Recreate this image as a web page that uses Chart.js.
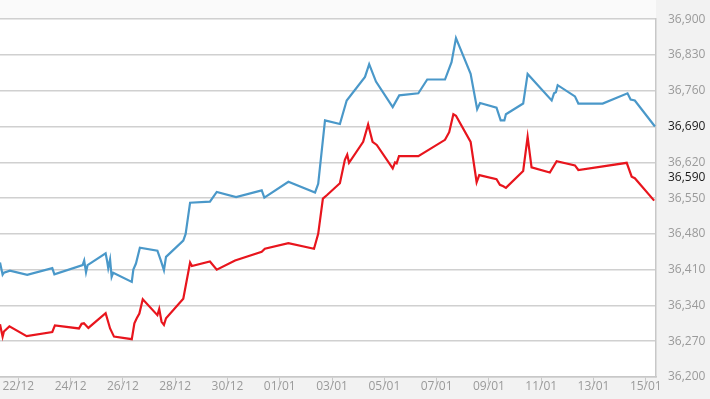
<!DOCTYPE html>
<html>
<head>
<meta charset="utf-8">
<script src="https://cdn.jsdelivr.net/npm/chart.js@4/dist/chart.umd.min.js"></script>
<style>
  html, body { margin: 0; padding: 0; background: #f2f2f2; }
  #wrap { width: 710px; height: 399px; position: relative; }
</style>
</head>
<body>
<div id="wrap"><canvas id="c" width="710" height="399"></canvas></div>
<script>
// x values are days counted from 22/12
const tickDays = [0, 2, 4, 6, 8, 10, 12, 14, 16, 18, 20, 22, 24];
const tickLabels = ['22/12','24/12','26/12','28/12','30/12','01/01','03/01','05/01','07/01','09/01','11/01','13/01','15/01'];

const blueX = [-0.70,-0.60,-0.55,-0.32,0.34,1.30,1.38,2.46,2.52,2.59,2.65,3.34,3.40,3.44,3.51,3.57,3.63,4.34,4.40,4.50,4.65,5.32,5.45,5.57,5.65,6.31,6.40,6.57,7.33,7.59,8.33,9.31,9.41,10.33,11.35,11.47,11.73,12.30,12.56,13.26,13.42,13.68,14.32,14.57,15.30,15.64,16.32,16.57,16.74,17.30,17.55,17.66,18.29,18.45,18.59,18.65,19.31,19.48,20.40,20.49,20.56,20.63,21.29,21.42,22.35,23.30,23.42,23.58,24.35];
const blueY = [36424,36400,36404,36408,36400,36413,36401,36419,36428,36405,36419,36442,36426,36413,36430,36396,36404,36386,36410,36422,36453,36447,36428,36409,36435,36467,36480,36541,36543,36562,36552,36565,36551,36582,36561,36578,36702,36695,36741,36787,36812,36778,36728,36751,36755,36782,36782,36816,36863,36793,36724,36736,36727,36702,36702,36714,36735,36793,36741,36755,36757,36771,36749,36735,36735,36755,36743,36741,36690];

const redX = [-0.70,-0.60,-0.55,-0.34,0.32,1.30,1.40,2.32,2.42,2.51,2.68,3.34,3.51,3.66,4.34,4.44,4.53,4.63,4.76,5.32,5.39,5.48,5.57,5.65,6.31,6.57,6.64,7.33,7.59,8.29,9.31,9.43,10.33,11.31,11.47,11.65,11.81,12.30,12.49,12.58,12.65,13.19,13.38,13.55,13.71,14.32,14.41,14.47,14.56,15.30,16.32,16.48,16.64,16.74,17.30,17.53,17.63,18.29,18.42,18.55,18.65,19.31,19.48,19.63,20.33,20.59,21.29,21.42,23.27,23.46,23.58,24.32];
const redY = [36303,36279,36289,36299,36280,36288,36301,36295,36304,36305,36296,36325,36295,36279,36274,36305,36315,36324,36352,36321,36333,36308,36302,36315,36353,36424,36417,36426,36410,36428,36445,36451,36462,36451,36480,36549,36556,36579,36625,36635,36619,36660,36694,36660,36654,36608,36620,36618,36632,36632,36664,36679,36714,36711,36660,36581,36595,36587,36576,36573,36570,36603,36670,36610,36600,36622,36614,36605,36619,36592,36589,36545];

const highlightedValues = [36690, 36590];

const xMin = -0.70, xMax = 24.39;
const yMin = 36200, yMax = 36900, yStep = 70;

const toPoints = (xs, ys) => xs.map((x, i) => ({ x: x, y: ys[i] }));

const bgPlugin = {
  id: 'bg',
  beforeDraw(chart) {
    const { ctx, chartArea: a } = chart;
    ctx.save();
    ctx.fillStyle = '#f2f2f2';
    ctx.fillRect(0, 0, chart.width, chart.height);
    ctx.fillStyle = '#fafafa';
    ctx.fillRect(a.left, 0, a.right - a.left, a.top);
    ctx.fillStyle = '#ffffff';
    ctx.fillRect(a.left, a.top, a.right - a.left, a.bottom - a.top);
    ctx.restore();
  },
  afterDraw(chart) {
    const { ctx } = chart;
    const ys = chart.scales.y;
    ctx.save();
    ctx.font = '12px "Open Sans"';
    ctx.fillStyle = '#1a1a1a';
    ctx.textAlign = 'left';
    ctx.textBaseline = 'middle';
    highlightedValues.forEach(v => {
      if ((v - yMin) % yStep !== 0) {
        ctx.fillText(v.toLocaleString('en-US'), ys.left + 12, ys.getPixelForValue(v));
      }
    });
    ctx.restore();
  }
};

new Chart(document.getElementById('c'), {
  type: 'line',
  data: {
    datasets: [
      { data: toPoints(blueX, blueY), borderColor: '#4a98c9', borderWidth: 2.2, pointRadius: 0, tension: 0, fill: false },
      { data: toPoints(redX, redY), borderColor: '#e8151d', borderWidth: 2.2, pointRadius: 0, tension: 0, fill: false }
    ]
  },
  options: {
    responsive: false,
    animation: false,
    events: [],
    layout: { padding: { top: 9, left: 0, right: 0, bottom: 0 }, autoPadding: false },
    plugins: { legend: { display: false }, tooltip: { enabled: false } },
    scales: {
      x: {
        type: 'linear',
        min: xMin,
        max: xMax,
        afterBuildTicks: s => { s.ticks = tickDays.map(v => ({ value: v })); },
        afterFit: s => { s.height = 22; },
        grid: { drawOnChartArea: false, drawTicks: true, tickLength: 7, color: '#c8c8c8' },
        border: { display: true, color: '#c8c8c8', width: 1.5 },
        ticks: {
          autoSkip: false,
          maxRotation: 0,
          padding: -5,
          color: '#9a9a9a',
          font: { family: '"Open Sans"', size: 12 },
          callback: v => { const i = tickDays.indexOf(v); return i >= 0 ? tickLabels[i] : ''; }
        }
      },
      y: {
        position: 'right',
        min: yMin,
        max: yMax,
        afterFit: s => { s.width = 54; },
        grid: { drawTicks: false, color: '#d0d0d0', lineWidth: 1.5 },
        border: { display: true, color: '#c8c8c8', width: 1.5 },
        ticks: {
          stepSize: yStep,
          padding: 12,
          color: c => (highlightedValues.includes(c.tick.value) ? '#1a1a1a' : '#9a9a9a'),
          font: { family: '"Open Sans"', size: 12 },
          callback: v => v.toLocaleString('en-US')
        }
      }
    }
  },
  plugins: [bgPlugin]
});
</script>
</body>
</html>
